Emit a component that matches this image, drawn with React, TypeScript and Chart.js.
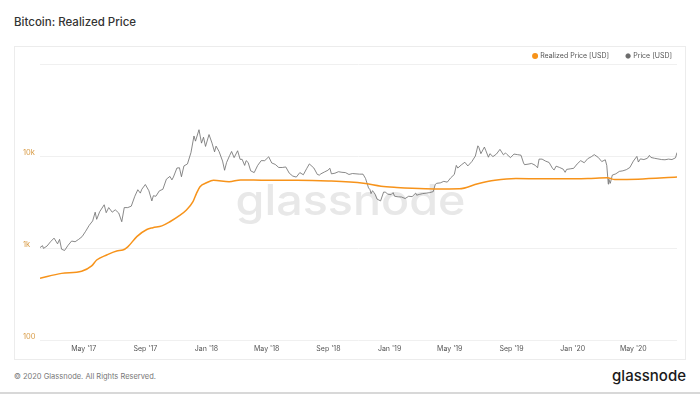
import { useEffect, useRef } from "react";
import { Chart, registerables } from "chart.js";

Chart.register(...registerables);

const PRICE_DATES = [
  "2017-02-03","2017-02-08","2017-02-10","2017-02-17","2017-02-24","2017-03-03","2017-03-10","2017-03-14","2017-03-18","2017-03-24",
  "2017-03-31","2017-04-07","2017-04-14","2017-04-21","2017-04-28","2017-05-05","2017-05-12","2017-05-19","2017-05-24","2017-05-27",
  "2017-06-02","2017-06-11","2017-06-15","2017-06-20","2017-06-27","2017-07-03","2017-07-10","2017-07-16","2017-07-21","2017-07-28",
  "2017-08-04","2017-08-11","2017-08-17","2017-08-22","2017-08-25","2017-09-01","2017-09-08","2017-09-14","2017-09-17","2017-09-22",
  "2017-09-29","2017-10-06","2017-10-13","2017-10-20","2017-10-24","2017-10-27","2017-11-03","2017-11-08","2017-11-12","2017-11-17",
  "2017-11-24","2017-12-01","2017-12-07","2017-12-10","2017-12-17","2017-12-22","2017-12-26","2017-12-30","2018-01-06","2018-01-12",
  "2018-01-17","2018-01-20","2018-01-26","2018-02-02","2018-02-06","2018-02-10","2018-02-16","2018-02-20","2018-02-25","2018-03-04",
  "2018-03-09","2018-03-13","2018-03-18","2018-03-21","2018-03-25","2018-03-30","2018-04-06","2018-04-13","2018-04-20","2018-04-27",
  "2018-05-05","2018-05-11","2018-05-18","2018-05-25","2018-06-01","2018-06-08","2018-06-15","2018-06-22","2018-06-29","2018-07-06",
  "2018-07-13","2018-07-20","2018-07-25","2018-08-03","2018-08-10","2018-08-14","2018-08-17","2018-08-24","2018-08-31","2018-09-04",
  "2018-09-07","2018-09-14","2018-09-21","2018-09-28","2018-10-05","2018-10-12","2018-10-19","2018-10-26","2018-11-02","2018-11-09",
  "2018-11-14","2018-11-20","2018-11-23","2018-11-25","2018-11-28","2018-12-03","2018-12-07","2018-12-14","2018-12-20","2018-12-24",
  "2018-12-28","2019-01-04","2019-01-08","2019-01-11","2019-01-18","2019-01-25","2019-02-01","2019-02-08","2019-02-15","2019-02-22",
  "2019-02-24","2019-03-01","2019-03-08","2019-03-15","2019-03-22","2019-03-29","2019-04-02","2019-04-05","2019-04-12","2019-04-19",
  "2019-04-26","2019-05-03","2019-05-10","2019-05-14","2019-05-17","2019-05-24","2019-05-31","2019-06-06","2019-06-14","2019-06-21",
  "2019-06-26","2019-06-28","2019-07-02","2019-07-09","2019-07-12","2019-07-17","2019-07-20","2019-07-26","2019-08-02","2019-08-09",
  "2019-08-16","2019-08-20","2019-08-23","2019-08-30","2019-09-06","2019-09-13","2019-09-20","2019-09-25","2019-09-27","2019-10-04",
  "2019-10-11","2019-10-18","2019-10-23","2019-10-26","2019-11-01","2019-11-08","2019-11-15","2019-11-22","2019-11-25","2019-11-29",
  "2019-12-06","2019-12-13","2019-12-17","2019-12-20","2019-12-27","2020-01-03","2020-01-10","2020-01-17","2020-01-24","2020-01-31",
  "2020-02-07","2020-02-13","2020-02-21","2020-02-28","2020-03-06","2020-03-09","2020-03-12","2020-03-13","2020-03-16","2020-03-20",
  "2020-03-27","2020-04-03","2020-04-10","2020-04-17","2020-04-24","2020-05-01","2020-05-08","2020-05-11","2020-05-15","2020-05-22",
  "2020-05-29","2020-06-02","2020-06-05","2020-06-12","2020-06-19","2020-06-26","2020-07-03","2020-07-10","2020-07-17","2020-07-24",
  "2020-07-27"
];

const PRICE_VALUES = [
  1010,1060,990,1050,1170,1280,1110,1240,970,940,
  1070,1190,1170,1240,1330,1520,1760,1970,2450,2050,
  2480,2950,2420,2750,2450,2600,2400,1930,2750,2750,
  2850,3650,4300,3950,4350,4900,4200,3250,3700,3650,
  4180,4350,5600,6000,5500,5900,7400,7450,5950,7800,
  8200,10900,16500,14500,19300,13800,16000,12700,17100,13800,
  11100,12800,11200,8800,7000,8500,10100,11200,9600,11400,
  9200,9200,7900,8900,8500,6900,6600,7900,8900,8900,
  9800,8400,8100,7500,7500,7600,6500,6050,5900,6600,
  6250,7350,8200,7400,6300,6200,6400,6700,7000,7350,
  6400,6500,6750,6650,6600,6300,6450,6400,6350,6350,
  5700,4500,4300,3900,4200,3850,3400,3250,4050,4050,
  3850,3800,4000,3650,3600,3580,3450,3650,3620,3950,
  3750,3820,3900,3950,4000,4100,4900,5050,5100,5300,
  5200,5800,6300,7900,7400,8000,8550,7800,8700,10000,
  12900,12400,10600,12500,11400,9700,10600,9850,10500,11800,
  10300,10800,10400,9600,10500,10350,10200,8400,8050,8150,
  8300,7950,7450,9250,9250,8800,8500,7300,7050,7750,
  7500,7200,6650,7150,7250,7350,8200,8900,8450,9350,
  9800,10350,9650,8700,9100,7900,4950,5600,5050,6200,
  6400,6800,6900,7100,7500,8800,9900,8600,9300,9150,
  9450,10150,9650,9450,9300,9150,9100,9250,9150,9550,
  10900
];

const REALIZED_DATES = [
  "2017-02-03","2017-03-18","2017-04-27","2017-05-17","2017-05-27","2017-06-16","2017-07-06","2017-07-18","2017-07-28","2017-08-15",
  "2017-09-04","2017-09-16","2017-10-04","2017-10-20","2017-11-05","2017-11-22","2017-12-05","2017-12-12","2017-12-19","2018-01-01",
  "2018-01-15","2018-02-15","2018-03-10","2018-05-01","2018-07-01","2018-09-01","2018-11-10","2018-12-15","2019-01-15","2019-02-15",
  "2019-04-01","2019-05-20","2019-06-26","2019-07-30","2019-09-10","2019-11-01","2019-12-15","2020-01-31","2020-03-10","2020-03-25",
  "2020-05-10","2020-07-27"
];

const REALIZED_VALUES = [
  470,530,560,640,740,840,930,950,1030,1330,
  1590,1660,1740,1930,2190,2590,3190,3930,4640,5120,
  5450,5250,5500,5450,5450,5350,5050,4700,4550,4450,
  4380,4400,5000,5450,5700,5650,5650,5700,5800,5550,
  5600,5900
];

const X_MIN_DATE = "2017-02-03";
const X_MAX_DATE = "2020-07-27";
const X_TICK_DATES = ["2017-05-01","2017-09-01","2018-01-01","2018-05-01","2018-09-01","2019-01-01","2019-05-01","2019-09-01","2020-01-01","2020-05-01"];
const X_TICK_LABELS = ["May '17","Sep '17","Jan '18","May '18","Sep '18","Jan '19","May '19","Sep '19","Jan '20","May '20"];
const Y_TICK_VALUES = [100, 1000, 10000, 100000];
const Y_TICK_LABELS = ["100", "1k", "10k", ""];

const toMs = (d: string) => Date.parse(d + "T00:00:00Z");

const watermarkPlugin = {
  id: "watermark",
  afterLayout(chart: any) {
    // keep both legend items on one row (avoid float rounding wrap)
    if (chart.legend && chart.legend.lineWidths) {
      chart.legend.lineWidths = chart.legend.lineWidths.map((w: number) => w + 0.5);
    }
  },
  beforeDatasetsDraw(chart: any) {
    const { ctx, chartArea } = chart;
    ctx.save();
    ctx.font = "500 42px Inter";
    ctx.fillStyle = "#e8e8e8";
    ctx.textAlign = "center";
    ctx.textBaseline = "alphabetic";
    const w = ctx.measureText("glassnode").width;
    const cx = (chartArea.left + chartArea.right) / 2 - 8;
    ctx.translate(cx, chartArea.top + 151);
    ctx.scale(230 / w, 1);
    ctx.fillText("glassnode", 0, 0);
    ctx.restore();
  },
};

export default function App() {
  const canvasRef = useRef<HTMLCanvasElement | null>(null);

  useEffect(() => {
    if (!canvasRef.current) return;
    const chart = new Chart(canvasRef.current, {
      type: "line",
      data: {
        datasets: [
          {
            label: "Realized Price [USD]",
            data: REALIZED_DATES.map((d, i) => ({ x: toMs(d), y: REALIZED_VALUES[i] })),
            borderColor: "#f7931a",
            backgroundColor: "#f7931a",
            borderWidth: 1.5,
            pointRadius: 0,
            cubicInterpolationMode: "monotone",
          },
          {
            label: "Price [USD]",
            data: PRICE_DATES.map((d, i) => ({ x: toMs(d), y: PRICE_VALUES[i] })),
            borderColor: "#6b6b6b",
            backgroundColor: "#6b6b6b",
            borderWidth: 0.8,
            pointRadius: 0,
            tension: 0,
          },
        ],
      },
      options: {
        animation: false,
        responsive: false,
        maintainAspectRatio: false,
        layout: { padding: { left: 9, right: 0, top: 0, bottom: 1.6 } },
        plugins: {
          legend: {
            position: "top",
            align: "end",
            maxHeight: 29,
            labels: {
              usePointStyle: true,
              pointStyle: "circle",
              boxWidth: 3.2,
              boxHeight: 3.2,
              padding: 17.5,
              color: "#555",
              font: { family: "Inter", size: 7 },
            },
          },
          tooltip: { enabled: false },
        },
        scales: {
          x: {
            type: "linear",
            min: toMs(X_MIN_DATE),
            max: toMs(X_MAX_DATE),
            grid: { display: false, drawTicks: false },
            border: { display: false },
            afterBuildTicks: (s: any) => {
              s.ticks = X_TICK_DATES.map((d) => ({ value: toMs(d) }));
            },
            ticks: {
              autoSkip: false,
              maxRotation: 0,
              padding: 5,
              color: "#555",
              font: { family: "Inter", size: 7 },
              callback: (v: any) => {
                const i = X_TICK_DATES.findIndex((d) => toMs(d) === v);
                return i >= 0 ? X_TICK_LABELS[i] : "";
              },
            },
          },
          y: {
            type: "logarithmic",
            min: 100,
            max: 100000,
            afterBuildTicks: (s: any) => {
              s.ticks = Y_TICK_VALUES.map((v) => ({ value: v }));
            },
            afterFit: (s: any) => {
              s.width = 17;
            },
            grid: { color: "#f0f0f0", drawTicks: false, lineWidth: 1 },
            border: { display: false },
            ticks: {
              crossAlign: "far",
              labelOffset: -3,
              color: "#d89b45",
              font: { family: "Inter", size: 7.5 },
              callback: (v: any) => {
                const i = Y_TICK_VALUES.indexOf(Number(v));
                return i >= 0 ? Y_TICK_LABELS[i] : "";
              },
            },
          },
          y2: {
            position: "right",
            display: true,
            grid: { display: false, drawTicks: false },
            border: { display: false },
            ticks: { display: false },
            afterFit: (s: any) => {
              s.width = 13;
            },
          },
        },
      } as any,
      plugins: [watermarkPlugin],
    });
    return () => chart.destroy();
  }, []);

  return (
    <div style={{ position: "relative", width: 700, height: 394, background: "#fff", fontFamily: "Inter, sans-serif", overflow: "hidden" }}>
      <style>{"body{margin:0;}"}</style>
      <div style={{ position: "absolute", left: 14, top: 14, fontSize: 11.5, fontWeight: 500, color: "#333", lineHeight: "16px" }}>
        Bitcoin: Realized Price
      </div>
      <div style={{ position: "absolute", left: 14, top: 46, width: 672, height: 314, boxSizing: "border-box", border: "1px solid #ececec" }} />
      <canvas ref={canvasRef} width={676} height={325} style={{ position: "absolute", left: 14, top: 35 }} />
      <div style={{ position: "absolute", left: 14, top: 372, fontSize: 7.5, color: "#777", lineHeight: "10px" }}>
        © 2020 Glassnode. All Rights Reserved.
      </div>
      <div style={{ position: "absolute", right: 14, top: 367, fontSize: 15, fontWeight: 500, color: "#1a1a1a", lineHeight: "18px" }}>
        glassnode
      </div>
      <div style={{ position: "absolute", left: 0, top: 392, width: 700, height: 2, background: "#d8d8d8" }} />
    </div>
  );
}
